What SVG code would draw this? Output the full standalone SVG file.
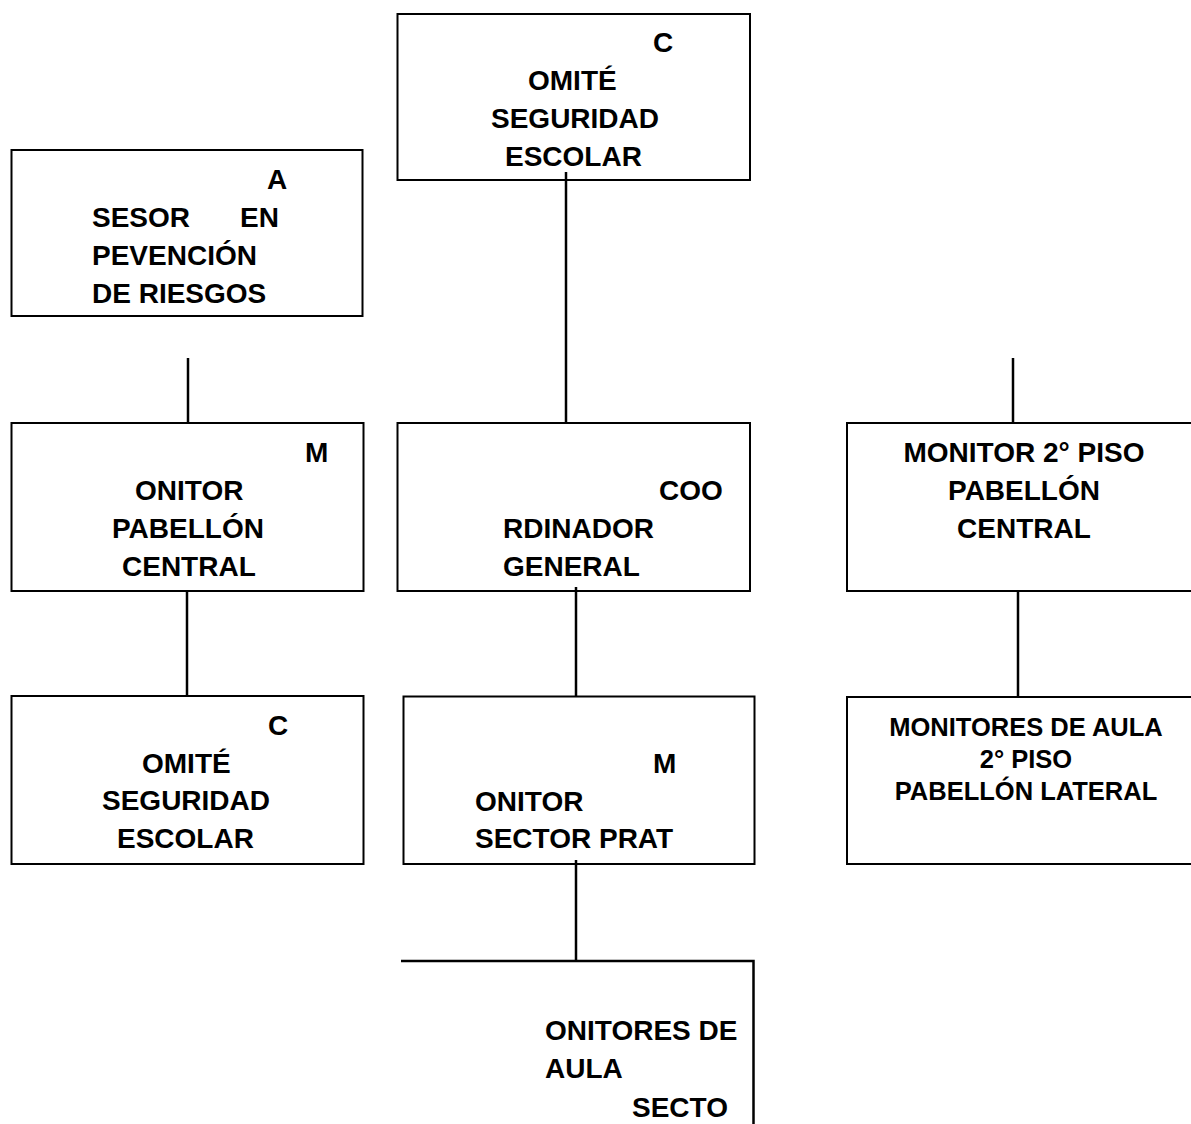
<svg xmlns="http://www.w3.org/2000/svg" width="1191" height="1124" viewBox="0 0 1191 1124">
<style>
.box{fill:#fff;stroke:#000;stroke-width:2}
.t{font-family:"Liberation Sans",Arial,sans-serif;font-weight:bold;font-size:28px;fill:#000}
.s{font-size:25.5px}
.c{text-anchor:middle}
.ln{stroke:#000;stroke-width:2.5;fill:none}
</style>
<rect width="1191" height="1124" fill="#fff"/>
<g id="comite-top">
<rect class="box" x="397.5" y="14" width="352.5" height="166"/>
<text class="t" x="653" y="52">C</text>
<text class="t" x="528" y="90">OMITÉ</text>
<text class="t" x="491" y="128">SEGURIDAD</text>
<text class="t" x="505" y="166">ESCOLAR</text>
</g>
<g id="asesor">
<rect class="box" x="11.5" y="150" width="351" height="166"/>
<text class="t" x="267" y="189">A</text>
<text class="t" x="92" y="227">SESOR</text>
<text class="t" x="240" y="227">EN</text>
<text class="t" x="92" y="265">PEVENCIÓN</text>
<text class="t" x="92" y="303">DE RIESGOS</text>
</g>
<g id="monitor-pabellon-central">
<rect class="box" x="11.5" y="423" width="352" height="168"/>
<text class="t" x="305" y="462">M</text>
<text class="t" x="135" y="500">ONITOR</text>
<text class="t" x="112" y="538">PABELLÓN</text>
<text class="t" x="122" y="576">CENTRAL</text>
</g>
<g id="comite-left">
<rect class="box" x="11.5" y="696" width="352" height="168"/>
<text class="t" x="268" y="735">C</text>
<text class="t" x="142" y="773">OMITÉ</text>
<text class="t" x="102" y="810">SEGURIDAD</text>
<text class="t" x="117" y="848">ESCOLAR</text>
</g>
<g id="coordinador">
<rect class="box" x="397.5" y="423" width="352.5" height="168"/>
<text class="t" x="659" y="500">COO</text>
<text class="t" x="503" y="538">RDINADOR</text>
<text class="t" x="503" y="576">GENERAL</text>
</g>
<g id="monitor-sector-prat">
<rect class="box" x="403.5" y="696.5" width="351" height="167.5"/>
<text class="t" x="653" y="773">M</text>
<text class="t" x="475" y="811">ONITOR</text>
<text class="t" x="475" y="848">SECTOR PRAT</text>
</g>
<g id="monitores-aula-sector">
<path class="ln" d="M401 961 H753.5 V1126"/>
<text class="t" x="545" y="1040">ONITORES DE</text>
<text class="t" x="545" y="1078">AULA</text>
<text class="t" x="632" y="1117">SECTO</text>
</g>
<g id="monitor-2-piso">
<rect class="box" x="847" y="423" width="360" height="168"/>
<text class="t c" x="1024" y="462">MONITOR 2° PISO</text>
<text class="t c" x="1024" y="500">PABELLÓN</text>
<text class="t c" x="1024" y="538">CENTRAL</text>
</g>
<g id="monitores-aula-lateral">
<rect class="box" x="847" y="697" width="360" height="167"/>
<text class="t s c" x="1026" y="736">MONITORES DE AULA</text>
<text class="t s c" x="1026" y="768">2° PISO</text>
<text class="t s c" x="1026" y="800">PABELLÓN LATERAL</text>
</g>
<g id="connectors">
<line class="ln" x1="566" y1="172" x2="566" y2="423"/>
<line class="ln" x1="188" y1="358" x2="188" y2="423"/>
<line class="ln" x1="187" y1="591" x2="187" y2="696"/>
<line class="ln" x1="576" y1="587" x2="576" y2="697"/>
<line class="ln" x1="576" y1="860" x2="576" y2="961"/>
<line class="ln" x1="1013" y1="358" x2="1013" y2="423"/>
<line class="ln" x1="1018" y1="591" x2="1018" y2="697"/>
</g>
</svg>
